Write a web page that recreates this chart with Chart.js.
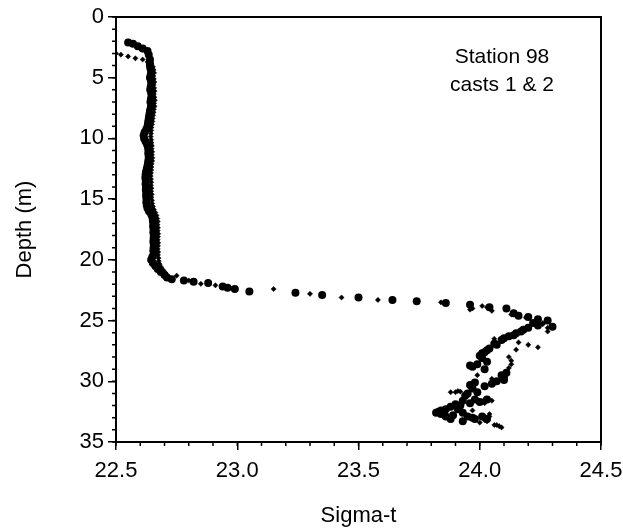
<!DOCTYPE html>
<html>
<head>
<meta charset="utf-8">
<script src="https://cdn.jsdelivr.net/npm/chart.js@4.4.0/dist/chart.umd.min.js"></script>
<style>
  body { margin: 0; background: #fff; }
  #wrap { width: 623px; height: 529px; }
</style>
</head>
<body>
<div id="wrap"><canvas id="sigmaChart" width="623" height="529"></canvas></div>
<script>
// cast 1 (big dots) - sigma-t and depth
var cast1Sigma = [22.55, 22.57, 22.59, 22.61, 22.63, 22.635, 22.64, 22.64,
  22.640, 22.642, 22.645, 22.643, 22.640, 22.644, 22.646, 22.643, 22.641, 22.645, 22.647, 22.644,
  22.642, 22.645, 22.643, 22.640, 22.638, 22.636, 22.634, 22.632, 22.630, 22.625, 22.618, 22.614,
  22.616, 22.622, 22.628, 22.632, 22.634, 22.633, 22.635, 22.634, 22.632, 22.630, 22.627, 22.624,
  22.622, 22.621, 22.623, 22.622, 22.624, 22.623, 22.625, 22.624, 22.626, 22.625, 22.627, 22.630,
  22.636, 22.645, 22.650, 22.652, 22.654, 22.653, 22.655, 22.654, 22.656, 22.655, 22.654, 22.656,
  22.655, 22.654, 22.656, 22.650, 22.645, 22.652, 22.662, 22.672, 22.685, 22.70, 22.71,
  22.73, 22.78, 22.82, 22.88, 22.94, 22.96, 22.99, 23.05, 23.24, 23.35, 23.50, 23.64, 23.74, 23.86,
  23.96, 24.04, 24.11, 24.14, 24.16, 24.20, 24.24, 24.28, 24.30, 24.24, 24.20, 24.17, 24.14, 24.12,
  24.09, 24.07, 24.04, 24.02, 24.01, 24.01, 23.99, 23.96, 24.03, 24.02, 24.11, 24.10, 24.07, 24.02,
  23.98, 23.97, 23.95, 23.99, 23.98, 24.03, 23.93, 23.90, 23.88, 23.84, 23.82, 23.84, 23.86, 23.88,
  23.91, 23.93, 23.95, 23.98, 24.01, 23.93,
  24.22, 24.18, 24.15, 24.10, 24.06, 24.03, 24.00, 23.97, 24.09, 24.10, 24.05, 23.96, 23.94, 23.96,
  24.00, 23.86, 23.92, 23.89, 23.97, 24.03, 23.83];
var cast1Depth = [2.1, 2.2, 2.4, 2.6, 2.8, 3.1, 3.5, 3.8,
  4.0, 4.25, 4.5, 4.75, 5.0, 5.25, 5.5, 5.75, 6.0, 6.25, 6.5, 6.75,
  7.0, 7.25, 7.5, 7.75, 8.0, 8.25, 8.5, 8.75, 9.0, 9.25, 9.5, 9.75,
  10.0, 10.25, 10.5, 10.75, 11.0, 11.25, 11.5, 11.75, 12.0, 12.25, 12.5, 12.75,
  13.0, 13.25, 13.5, 13.75, 14.0, 14.25, 14.5, 14.75, 15.0, 15.25, 15.5, 15.75,
  16.0, 16.25, 16.5, 16.75, 17.0, 17.25, 17.5, 17.75, 18.0, 18.25, 18.5, 18.75,
  19.0, 19.25, 19.5, 19.75, 20.0, 20.25, 20.5, 20.75, 21.0, 21.25, 21.45,
  21.6, 21.7, 21.8, 21.9, 22.2, 22.3, 22.4, 22.6, 22.7, 22.9, 23.1, 23.3, 23.4, 23.55,
  23.7, 23.9, 24.0, 24.4, 24.6, 24.7, 24.9, 25.0, 25.5, 25.4, 25.6, 25.9, 26.2, 26.3,
  26.6, 27.0, 27.3, 27.6, 27.7, 28.1, 28.6, 28.7, 28.4, 29.0, 29.3, 29.7, 30.0, 30.4,
  30.1, 30.6, 31.0, 30.9, 31.5, 31.5, 31.6, 31.9, 32.1, 32.4, 32.6, 32.7, 32.9, 33.1,
  32.3, 32.6, 32.9, 33.1, 32.9, 33.3,
  25.2, 25.75, 26.05, 26.45, 26.9, 27.45, 27.9, 28.8, 29.5, 29.9, 30.2, 30.3, 31.2, 31.8,
  31.7, 32.3, 32.0, 32.8, 33.0, 33.1, 32.5];

// cast 2 (small marks)
var cast2Sigma = [22.50, 22.52, 22.55, 22.58, 22.61, 22.63, 22.645,
  22.652, 22.655, 22.657, 22.654, 22.656, 22.658, 22.655, 22.657, 22.659, 22.656, 22.658, 22.660,
  22.657, 22.659, 22.656, 22.655, 22.653, 22.651, 22.650, 22.648, 22.646, 22.645, 22.644, 22.643,
  22.645, 22.646, 22.648, 22.647, 22.649, 22.648, 22.650, 22.649, 22.647, 22.646, 22.645, 22.644,
  22.643, 22.644, 22.645, 22.644, 22.646, 22.645, 22.647, 22.646, 22.648, 22.649, 22.652, 22.656,
  22.662, 22.667, 22.670, 22.672, 22.671, 22.673, 22.672, 22.674, 22.673, 22.672, 22.674, 22.673,
  22.672, 22.674, 22.673, 22.675, 22.676, 22.680, 22.686, 22.695, 22.705,
  22.75, 22.80, 22.85, 22.91, 22.97, 23.15, 23.30, 23.43, 23.58, 23.84, 23.96, 24.01, 24.05,
  24.13, 24.19, 24.23, 24.26, 24.28, 24.06, 24.20, 24.24, 24.15, 24.12, 24.13, 24.12, 23.99,
  24.05, 23.88, 23.91, 23.94, 24.04, 24.03, 24.06, 24.09, 24.00, 23.97, 24.02,
  23.90, 23.92, 24.02, 24.05, 24.07, 24.08, 24.02, 24.04, 24.13, 24.16, 24.28, 24.26, 23.97, 24.03];
var cast2Depth = [3.0, 3.1, 3.25, 3.4, 3.5, 3.7, 3.9,
  4.1, 4.35, 4.6, 4.85, 5.1, 5.35, 5.6, 5.85, 6.1, 6.35, 6.6, 6.85,
  7.1, 7.35, 7.6, 7.85, 8.1, 8.35, 8.6, 8.85, 9.1, 9.35, 9.6, 9.85,
  10.1, 10.35, 10.6, 10.85, 11.1, 11.35, 11.6, 11.85, 12.1, 12.35, 12.6, 12.85,
  13.1, 13.35, 13.6, 13.85, 14.1, 14.35, 14.6, 14.85, 15.1, 15.35, 15.6, 15.85,
  16.1, 16.35, 16.6, 16.85, 17.1, 17.35, 17.6, 17.85, 18.1, 18.35, 18.6, 18.85,
  19.1, 19.35, 19.6, 19.85, 20.1, 20.35, 20.6, 20.85, 21.1,
  21.3, 21.7, 21.97, 22.1, 22.3, 22.4, 22.8, 23.1, 23.3, 23.5, 24.1, 23.8, 24.2,
  24.5, 24.75, 25.1, 25.3, 25.9, 26.5, 27.0, 27.2, 27.4, 28.0, 28.6, 28.9, 29.5,
  29.8, 30.9, 30.8, 31.2, 32.7, 33.3, 33.6, 33.8, 33.4, 32.4, 31.8,
  30.9, 30.85, 31.5, 31.6, 33.6, 33.7, 33.2, 32.9, 28.3, 26.8, 25.6, 25.2, 24.0, 23.9];

var xTicks = ['22.5', '23.0', '23.5', '24.0', '24.5'];
var yTicks = ['0', '5', '10', '15', '20', '25', '30', '35'];

function toPoints(xs, ys) {
  return xs.map(function (x, i) { return { x: x, y: ys[i] }; });
}

// minor ticks, box and the station note
var extras = {
  id: 'extras',
  afterDraw: function (chart) {
    var c = chart.ctx, a = chart.chartArea;
    var xs = chart.scales.x, ys = chart.scales.y;
    c.save();
    c.strokeStyle = '#000';
    c.lineWidth = 1.5;
    c.beginPath();
    for (var v = 225; v <= 245; v++) {
      var px = xs.getPixelForValue(v / 10);
      c.moveTo(px, a.bottom);
      c.lineTo(px, a.bottom + 4);
    }
    for (var d = 0; d <= 35; d++) {
      var py = ys.getPixelForValue(d);
      c.moveTo(a.left, py);
      c.lineTo(a.left - 4, py);
    }
    c.stroke();
    c.lineWidth = 2;
    c.strokeRect(a.left, a.top, a.right - a.left, a.bottom - a.top);
    c.fillStyle = '#000';
    c.font = '21px "Liberation Sans", Arial, sans-serif';
    c.textAlign = 'center';
    c.textBaseline = 'middle';
    c.fillText('Station 98', 502, 57);
    c.fillText('casts 1 & 2', 502, 85);
    c.restore();
  }
};

document.addEventListener("DOMContentLoaded", function () {
  var ctx = document.getElementById('sigmaChart').getContext('2d');
  var font = { family: '"Liberation Sans", Arial, sans-serif', size: 22 };
  new Chart(ctx, {
    type: 'scatter',
    data: {
      datasets: [{
        label: 'cast 1',
        data: toPoints(cast1Sigma, cast1Depth),
        pointStyle: 'circle',
        pointRadius: 4,
        backgroundColor: '#000',
        borderColor: '#000',
        borderWidth: 0
      }, {
        label: 'cast 2',
        data: toPoints(cast2Sigma, cast2Depth),
        pointStyle: 'rectRot',
        pointRadius: 2.6,
        backgroundColor: '#000',
        borderColor: '#000',
        borderWidth: 0.5
      }]
    },
    options: {
      responsive: false,
      animation: false,
      layout: { padding: { left: 0, right: 22, top: 17, bottom: 0 } },
      plugins: { legend: { display: false }, tooltip: { enabled: false } },
      scales: {
        x: {
          type: 'linear',
          min: 22.5, max: 24.5,
          border: { display: true, color: '#000', width: 2 },
          grid: { drawOnChartArea: false, drawTicks: true, tickLength: 8, color: '#000', lineWidth: 1.5 },
          ticks: {
            stepSize: 0.5, color: '#000', font: font, padding: 8, maxRotation: 0,
            callback: function (v) { return xTicks[Math.round((v - 22.5) / 0.5)]; }
          },
          title: { display: true, text: 'Sigma-t', color: '#000', font: font, padding: { top: 18, bottom: 0 } },
          afterFit: function (s) { s.height = 87; s.paddingLeft = 0; s.paddingRight = 0; }
        },
        y: {
          type: 'linear',
          reverse: true,
          min: 0, max: 35,
          border: { display: true, color: '#000', width: 2 },
          grid: { drawOnChartArea: false, drawTicks: true, tickLength: 8, color: '#000', lineWidth: 1.5 },
          ticks: {
            stepSize: 5, color: '#000', font: font, padding: 4,
            callback: function (v) { return yTicks[Math.round(v / 5)]; }
          },
          title: { display: true, text: 'Depth (m)', color: '#000', font: font, padding: { top: 12, bottom: 0 } },
          afterFit: function (s) { s.width = 116; s.paddingTop = 0; s.paddingBottom = 0; }
        }
      }
    },
    plugins: [extras]
  });
});
</script>
</body>
</html>
